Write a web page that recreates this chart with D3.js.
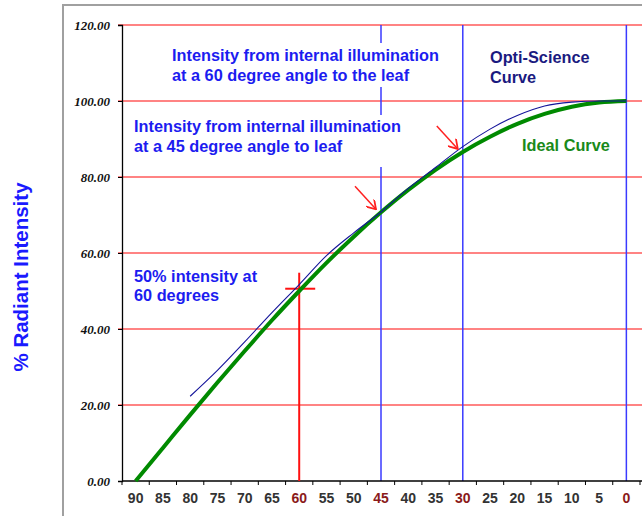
<!DOCTYPE html>
<html>
<head>
<meta charset="utf-8">
<script src="https://cdn.jsdelivr.net/npm/d3@7"></script>
<style>
  body { margin: 0; background: #fff; }
  svg { display: block; }
</style>
</head>
<body>
<svg id="chart" width="642" height="516"></svg>
<script>
const angles = [90, 85, 80, 75, 70, 65, 60, 55, 50, 45, 40, 35, 30, 25, 20, 15, 10, 5, 0];
const idealCurve = [0, 8.7, 17.4, 25.9, 34.2, 42.3, 50.0, 57.4, 64.3, 70.7, 76.6, 81.9, 86.6, 90.6, 94.0, 96.6, 98.5, 99.6, 100];
const optiCurve = [null, null, 22.3, 29.1, 36.6, 44.3, 51.7, 59.3, 65.3, 70.8, 77.0, 82.5, 88.0, 92.6, 96.2, 98.7, 99.7, 100, 100];
const yTicks = [0, 20, 40, 60, 80, 100, 120];
const markedAngles = [45, 30, 0];
const crossPoint = { angle: 60, value: 50.6 };
const arrowAngles = [45, 30];

const svg = d3.select('#chart');
const plotLeft = 122, plotRight = 640, plotTop = 25, plotBottom = 481;

const x = d3.scaleBand().domain(angles).range([plotLeft, plotRight]).padding(0);
const y = d3.scaleLinear().domain([0, 120]).range([plotBottom, plotTop]);
const cx = (a) => x(a) + x.bandwidth() / 2;

// outer frame
svg.append('rect')
    .attr('x', 63).attr('y', 5).attr('width', 700).attr('height', 600)
    .attr('fill', '#fff').attr('stroke', '#a0a0a0').attr('stroke-width', 2);

// red horizontal gridlines
svg.append('g')
    .selectAll('line')
    .data(yTicks.filter((d) => d > 0))
    .join('line')
    .attr('x1', plotLeft - 4).attr('x2', 642)
    .attr('y1', (d) => y(d)).attr('y2', (d) => y(d))
    .attr('stroke', '#ff5a5a').attr('stroke-width', 1.3);

// blue vertical lines
svg.append('g')
    .selectAll('line')
    .data(markedAngles)
    .join('line')
    .attr('x1', (d) => cx(d)).attr('x2', (d) => cx(d))
    .attr('y1', plotTop).attr('y2', plotBottom)
    .attr('stroke', '#3a3aff').attr('stroke-width', 1.5);

// white text boxes that break the 45 degree line
svg.append('rect').attr('x', 168).attr('y', 43).attr('width', 276).attr('height', 44).attr('fill', '#fff');
svg.append('rect').attr('x', 130).attr('y', 115).attr('width', 276).attr('height', 52).attr('fill', '#fff');

// axes
const yAxis = svg.append('g').attr('transform', `translate(${plotLeft},0)`)
    .call(d3.axisLeft(y).tickValues(yTicks).tickFormat(d3.format('.2f')).tickSize(4).tickPadding(8));
yAxis.select('.domain').attr('stroke', '#000').attr('stroke-width', 1.3);
yAxis.selectAll('line').attr('stroke', '#000');
yAxis.selectAll('text')
    .attr('font-family', 'Liberation Serif')
    .attr('font-weight', 'bold')
    .attr('font-style', 'italic')
    .attr('font-size', 13)
    .attr('fill', '#111');

const xAxis = svg.append('g').attr('transform', `translate(0,${plotBottom})`)
    .call(d3.axisBottom(x).tickSize(0).tickPadding(12));
xAxis.select('.domain').remove();
xAxis.append('line').attr('x1', plotLeft).attr('x2', 642).attr('stroke', '#000').attr('stroke-width', 1.3);
xAxis.selectAll('.boundary')
    .data(d3.range(angles.length + 1))
    .join('line')
    .attr('class', 'boundary')
    .attr('x1', (i) => plotLeft + i * x.step()).attr('x2', (i) => plotLeft + i * x.step())
    .attr('y1', 0).attr('y2', 4)
    .attr('stroke', '#000');
xAxis.selectAll('.tick text')
    .attr('font-family', 'Liberation Sans')
    .attr('font-weight', 'bold')
    .attr('font-size', 14)
    .attr('fill', (d) => (d === 60 || d === 45 || d === 30 || d === 0 ? '#8b1a1a' : '#333'));

// crosshair at 60 degrees
svg.append('line')
    .attr('x1', cx(crossPoint.angle)).attr('x2', cx(crossPoint.angle))
    .attr('y1', y(crossPoint.value) - 16).attr('y2', plotBottom)
    .attr('stroke', '#ff1010').attr('stroke-width', 2);
svg.append('line')
    .attr('x1', cx(crossPoint.angle) - 14).attr('x2', cx(crossPoint.angle) + 16)
    .attr('y1', y(crossPoint.value)).attr('y2', y(crossPoint.value))
    .attr('stroke', '#ff1010').attr('stroke-width', 2);

// curves
const lineGen = (values) => d3.line()
    .defined((d, i) => values[i] !== null)
    .x((d) => cx(d))
    .y((d, i) => y(values[i]))
    .curve(d3.curveMonotoneX);

svg.append('path')
    .attr('d', lineGen(idealCurve)(angles))
    .attr('fill', 'none')
    .attr('stroke', '#008a00')
    .attr('stroke-width', 4);

svg.append('path')
    .attr('d', lineGen(optiCurve)(angles))
    .attr('fill', 'none')
    .attr('stroke', '#14149a')
    .attr('stroke-width', 1.1);

// red arrows
const defs = svg.append('defs');
defs.append('marker')
    .attr('id', 'head')
    .attr('viewBox', '0 0 10 10')
    .attr('refX', 9).attr('refY', 5)
    .attr('markerWidth', 11).attr('markerHeight', 11)
    .attr('markerUnits', 'userSpaceOnUse')
    .attr('orient', 'auto')
    .append('path')
    .attr('d', 'M1,0 L9,5 L1,10')
    .attr('fill', 'none')
    .attr('stroke', '#ff2020')
    .attr('stroke-width', 1.6);

arrowAngles.forEach((a) => {
    const tipX = cx(a) - 5;
    const tipY = y(idealCurve[angles.indexOf(a)]) - 3;
    svg.append('line')
        .attr('x1', tipX - 21).attr('y1', tipY - 23)
        .attr('x2', tipX).attr('y2', tipY)
        .attr('stroke', '#ff2020')
        .attr('stroke-width', 1.5)
        .attr('marker-end', 'url(#head)');
});

// labels
function label(lines, px, baselines, color) {
    const t = svg.append('text')
        .attr('font-family', 'Liberation Sans')
        .attr('font-weight', 'bold')
        .attr('font-size', 16.3)
        .attr('fill', color);
    lines.forEach((s, i) => {
        t.append('tspan').attr('x', px).attr('y', baselines[i]).text(s);
    });
}

label(['Intensity from internal illumination', 'at a 60 degree angle to the leaf'], 172, [61, 81], '#1c1cf0');
label(['Opti-Science', 'Curve'], 490, [63, 83], '#1a1a80');
label(['Intensity from internal illumination', 'at a 45 degree angle to leaf'], 134, [132, 152], '#1c1cf0');
label(['Ideal Curve'], 522, [151], '#1a8a1a');
label(['50% intensity at', '60 degrees'], 134, [282, 301], '#1c1cf0');

svg.append('text')
    .attr('transform', 'translate(27.5,277) rotate(-90)')
    .attr('text-anchor', 'middle')
    .attr('font-family', 'Liberation Sans')
    .attr('font-weight', 'bold')
    .attr('font-size', 20.5)
    .attr('fill', '#1a1aff')
    .text('% Radiant Intensity');
</script>
</body>
</html>
